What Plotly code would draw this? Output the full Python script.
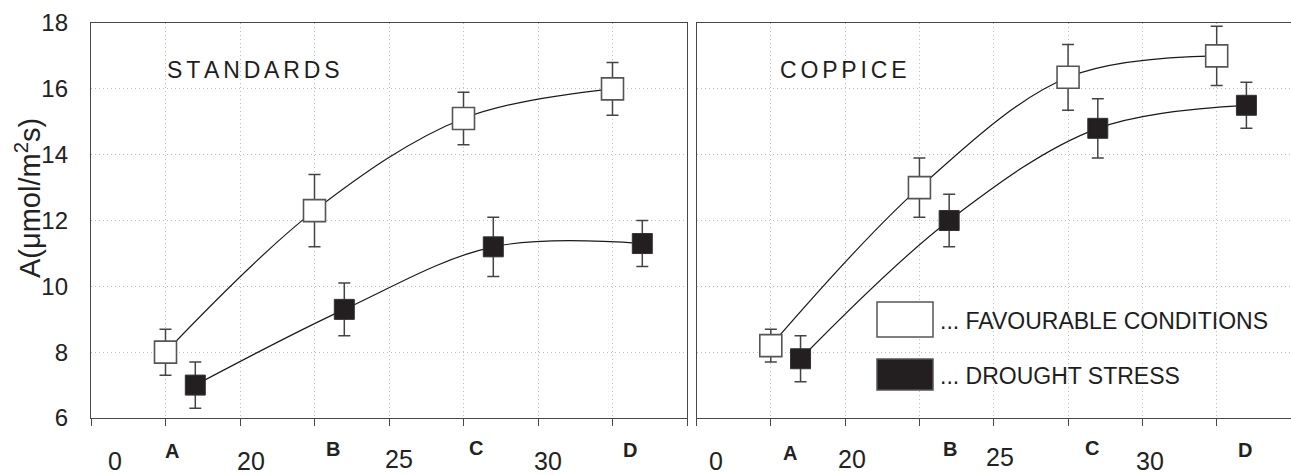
import plotly.graph_objects as go

# ---------------- data ----------------
positions = ["A", "B", "C", "D"]
pos_x = [1, 3, 5, 7]

std_fav = [8.0, 12.3, 15.1, 16.0]
std_fav_err = [0.7, 1.1, 0.8, 0.8]
std_dro = [7.0, 9.3, 11.2, 11.3]
std_dro_err = [0.7, 0.8, 0.9, 0.7]

cop_fav = [8.2, 13.0, 16.35, 17.0]
cop_fav_err = [0.5, 0.9, 1.0, 0.9]
cop_dro = [7.8, 12.0, 14.8, 15.5]
cop_dro_err = [0.7, 0.8, 0.9, 0.7]

axis_labels = ["0", "A", "20", "B", "25", "C", "30", "D"]
panel_titles = ["STANDARDS", "COPPICE"]
legend_labels = ["... FAVOURABLE CONDITIONS", "... DROUGHT STRESS"]
y_title = "A(\u03bcmol/m<sup>2</sup>s)"

# ---------------- layout constants ----------------
W, H = 1291, 475
ML, MR, MT, MB = 91, 0, 23, 57
PW = W - ML - MR
PH = H - MT - MB
DODGE = 0.4

def px(xp):
    return (xp - ML) / PW

def py(yp):
    return (H - MB - yp) / PH

FONT = "Liberation Sans, Arial, sans-serif"
NARROW = "Liberation Sans Narrow, Arial Narrow, Liberation Sans, sans-serif"
AX = "#484848"
FILL = "#231f20"
GRID = "#bdbdbd"

fig = go.Figure()

def add_panel(fav, fav_err, dro, dro_err, xa, ya):
    xd = [x + DODGE for x in pos_x]
    fig.add_trace(go.Scatter(
        x=pos_x, y=fav, mode="lines+markers", xaxis=xa, yaxis=ya,
        line=dict(color="#1a1a1a", width=1.2, shape="spline"),
        marker=dict(symbol="square", size=22, color="white",
                    line=dict(color="#555555", width=1.6)),
        error_y=dict(type="data", array=fav_err, visible=True,
                     color="#444444", thickness=1.5, width=6),
        showlegend=False))
    fig.add_trace(go.Scatter(
        x=xd, y=dro, mode="lines+markers", xaxis=xa, yaxis=ya,
        line=dict(color="#1a1a1a", width=1.2, shape="spline"),
        marker=dict(symbol="square", size=20, color=FILL,
                    line=dict(color="#333333", width=1)),
        error_y=dict(type="data", array=dro_err, visible=True,
                     color="#444444", thickness=1.5, width=6),
        showlegend=False))

add_panel(std_fav, std_fav_err, std_dro, std_dro_err, "x", "y")
add_panel(cop_fav, cop_fav_err, cop_dro, cop_dro_err, "x2", "y2")

xcommon = dict(range=[0, 8], tickmode="linear", tick0=0, dtick=1,
               showticklabels=False, ticks="outside", ticklen=7,
               tickcolor=AX, tickwidth=1.3, showline=True, linecolor=AX,
               linewidth=1.4, mirror=True, showgrid=True,
               gridcolor=GRID, griddash="1px,3px", gridwidth=1,
               zeroline=False, fixedrange=True)
ycommon = dict(range=[6, 18], tickmode="linear", tick0=6, dtick=2,
               showline=True, linecolor=AX, linewidth=1.4,
               showgrid=True, gridcolor=GRID, griddash="1px,3px",
               gridwidth=1, zeroline=False, fixedrange=True)

fig.update_layout(
    width=W, height=H,
    margin=dict(l=ML, r=MR, t=MT, b=MB, pad=0),
    paper_bgcolor="white", plot_bgcolor="white",
    font=dict(family=FONT, color="#222222"),
    xaxis=dict(domain=[0, px(687)], **xcommon),
    xaxis2=dict(domain=[px(696.5), 1], anchor="y2", **xcommon),
    yaxis=dict(domain=[0, 1], mirror=True, ticks="outside", ticklen=0,
               ticklabelstandoff=17,
               tickfont=dict(family=FONT, size=24, color="#222222"),
               **ycommon),
    yaxis2=dict(domain=[0, 1], anchor="x2", mirror=False,
                showticklabels=False, ticks="", **ycommon),
)

ann = []
# x-axis labels (staggered, as in the original)
left_lab_px = [115, 172, 251, 333, 399, 476, 548, 630]
left_lab_py = [461, 451, 461, 449, 459, 448, 461, 450]
right_lab_px = [716, 790, 852, 950, 1000, 1092, 1150, 1245]
right_lab_py = [461, 453, 459, 449, 457, 448, 461, 450]
for xs, ys in [(left_lab_px, left_lab_py), (right_lab_px, right_lab_py)]:
    for lab, xp, yp in zip(axis_labels, xs, ys):
        is_letter = lab.isalpha()
        ann.append(dict(
            x=px(xp), y=py(yp), xref="paper", yref="paper",
            text=f"<b>{lab}</b>" if is_letter else lab,
            showarrow=False, xanchor="center", yanchor="middle",
            font=dict(family=FONT if is_letter else NARROW,
                      size=20 if is_letter else 25, color="#222222")))

# panel titles (letter-spaced)
sp = "\u2006"
for title, xp in zip(panel_titles, [165, 778]):
    ann.append(dict(x=px(xp), y=py(70), xref="paper", yref="paper",
                    text=sp.join(title), showarrow=False,
                    xanchor="left", yanchor="middle",
                    font=dict(family=FONT, size=23, color="#1e1e1e")))

# y-axis title
ann.append(dict(x=px(28), y=py(198), xref="paper", yref="paper",
                text=y_title, textangle=-90, showarrow=False,
                xanchor="center", yanchor="middle",
                font=dict(family=FONT, size=29, color="#222222")))

# legend (drawn inside the right panel)
shapes = []
box_x0, box_x1 = 877, 933
box_rows = [(302, 337), (359, 390)]
fills = ["white", FILL]
for (y0, y1), fc, lab in zip(box_rows, fills, legend_labels):
    shapes.append(dict(type="rect", xref="paper", yref="paper",
                       x0=px(box_x0), x1=px(box_x1), y0=py(y1), y1=py(y0),
                       fillcolor=fc, line=dict(color="#555555", width=1.5)))
    ann.append(dict(x=px(938), y=py((y0 + y1) / 2 + 1), xref="paper",
                    yref="paper", text=lab, showarrow=False,
                    xanchor="left", yanchor="middle",
                    font=dict(family=FONT, size=23, color="#1e1e1e")))

fig.update_layout(annotations=ann, shapes=shapes)
fig.write_html("out.html",
               config={"displayModeBar": False},
               post_script="document.body.style.margin='0px';"
                           "document.body.style.overflow='hidden';")
